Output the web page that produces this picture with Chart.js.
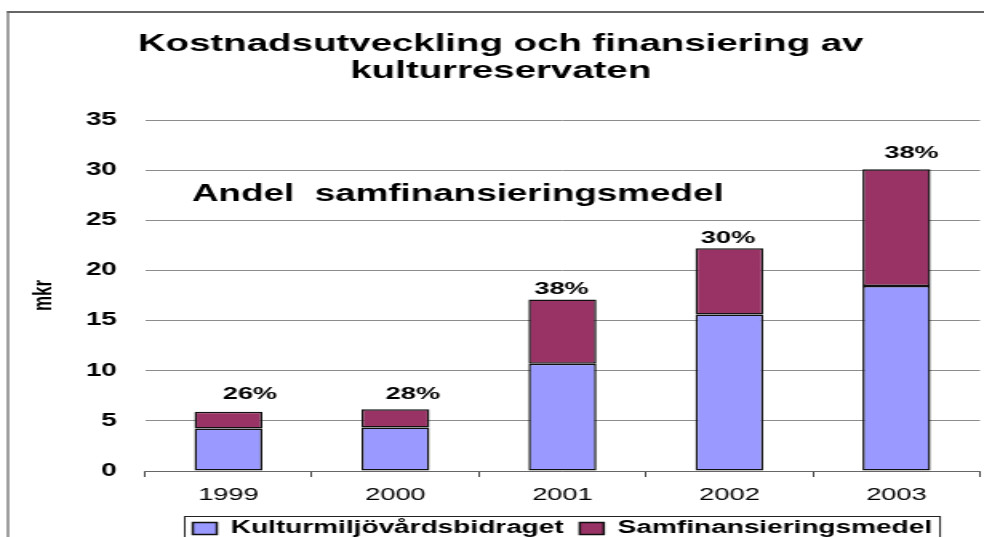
<!DOCTYPE html>
<html>
<head>
<meta charset="utf-8">
<script src="https://cdn.jsdelivr.net/npm/chart.js@4.4.0/dist/chart.umd.min.js"></script>
<style>
  html, body { margin: 0; padding: 0; background: #fff; }
  #chart { display: block; }
</style>
</head>
<body>
<!-- the original is a stretched excel chart, so the canvas is drawn narrow and stretched wide -->
<canvas id="chart" width="615" height="537" style="width:984px;height:537px"></canvas>
<script>
const years = ["1999", "2000", "2001", "2002", "2003"];
const bidrag = [4.25, 4.35, 10.7, 15.6, 18.45];
const samfin = [1.65, 1.8, 6.4, 6.6, 11.65];
const shares = ["26%", "28%", "38%", "30%", "38%"];
const yTicks = [0, 5, 10, 15, 20, 25, 30, 35];

// nudges for the percentage labels (canvas px), as they sit in the original
const shareDx = [13.4, 10.9, -0.6, -0.9, 9.4];
const shareLift = [18, 15.5, 10, 10, 15.5];

const FONT = "'Liberation Sans', Arial, sans-serif";

const decorations = {
  id: "decorations",
  beforeDraw(chart) {
    const ctx = chart.ctx;
    ctx.save();
    ctx.strokeStyle = "#666";
    ctx.lineWidth = 2;
    ctx.beginPath();
    ctx.moveTo(4.4, 12);
    ctx.lineTo(chart.width, 12);
    ctx.stroke();
    ctx.lineWidth = 1.25;
    ctx.beginPath();
    ctx.moveTo(5, 11);
    ctx.lineTo(5, chart.height);
    ctx.stroke();
    ctx.restore();
  },
  afterDatasetsDraw(chart) {
    const ctx = chart.ctx;
    const x = chart.scales.x, y = chart.scales.y;
    ctx.save();
    ctx.fillStyle = "#000";
    ctx.textAlign = "center";
    ctx.textBaseline = "middle";
    ctx.font = "bold 17px " + FONT;
    shares.forEach((s, i) => {
      const top = y.getPixelForValue(bidrag[i] + samfin[i]);
      ctx.fillText(s, x.getPixelForValue(i) + shareDx[i], top - shareLift[i]);
    });
    // note inside the plot
    ctx.textAlign = "left";
    ctx.textBaseline = "alphabetic";
    ctx.font = "bold 23px " + FONT;
    ctx.fillText("Andel  samfinansieringsmedel", chart.chartArea.left + 29.4, y.getPixelForValue(26.9));
    ctx.restore();
  },
  afterDraw(chart) {
    //frame round the legend, runs off the bottom like in the original
    const boxes = chart.legend.legendHitBoxes;
    if (!boxes || !boxes.length) return;
    const first = boxes[0], last = boxes[boxes.length - 1];
    const ctx = chart.ctx;
    ctx.save();
    ctx.strokeStyle = "#222";
    ctx.lineWidth = 1;
    ctx.strokeRect(first.left - 5, 516.5, last.left + last.width - first.left + 10, 40);
    ctx.restore();
  },
};

new Chart(document.getElementById("chart"), {
  type: "bar",
  data: {
    labels: years,
    datasets: [
      {
        label: "Kulturmiljövårdsbidraget",
        data: bidrag,
        backgroundColor: "#9999ff",
        borderColor: "#111",
        borderWidth: 1.5,
        borderSkipped: false,
      },
      {
        label: "Samfinansieringsmedel",
        data: samfin,
        backgroundColor: "#993366",
        borderColor: "#111",
        borderWidth: 1.5,
        borderSkipped: false,
      },
    ],
  },
  options: {
    responsive: false,
    devicePixelRatio: 1,
    animation: false,
    events: [],
    categoryPercentage: 1,
    barPercentage: 0.407,
    layout: { padding: { left: 13.5, right: 2.5, top: 0, bottom: -10.25 } },
    plugins: {
      tooltip: { enabled: false },
      title: {
        display: true,
        text: ["Kostnadsutveckling och finansiering av", "kulturreservaten"],
        color: "#000",
        font: { family: FONT, size: 24, weight: "bold", lineHeight: 1.125 },
        padding: { top: 30.5, bottom: 35.5 },
      },
      legend: {
        position: "bottom",
        fullSize: false,
        labels: {
          color: "#000",
          boxWidth: 15,
          boxHeight: 12,
          padding: 10,
          font: { family: FONT, size: 17.5, weight: "bold" },
        },
      },
    },
    scales: {
      x: {
        stacked: true,
        afterFit: (scale) => {
          scale.height = 38.75;
        },
        grid: {
          offset: true,
          drawOnChartArea: false,
          drawTicks: true,
          tickLength: 6,
          color: "#444",
        },
        border: { display: true, color: "#666", width: 1 },
        ticks: {
          color: "#000",
          padding: 8,
          maxRotation: 0,
          font: { family: FONT, size: 17 },
        },
      },
      y: {
        stacked: true,
        min: 0,
        max: 35,
        afterFit: (scale) => {
          scale.width = 77.1;
        },
        afterBuildTicks: (scale) => {
          scale.ticks = yTicks.map((v) => ({ value: v }));
        },
        grid: { color: "#8c8c8c", lineWidth: 1, drawTicks: false },
        border: { display: false },
        ticks: {
          color: "#000",
          padding: 17.5,
          font: { family: FONT, size: 17.5, weight: "bold" },
        },
        title: {
          display: true,
          text: "mkr",
          color: "#000",
          padding: { top: 3.9, bottom: 0 },
          font: { family: FONT, size: 17, weight: "bold" },
        },
      },
    },
  },
  plugins: [decorations],
});
</script>
</body>
</html>
